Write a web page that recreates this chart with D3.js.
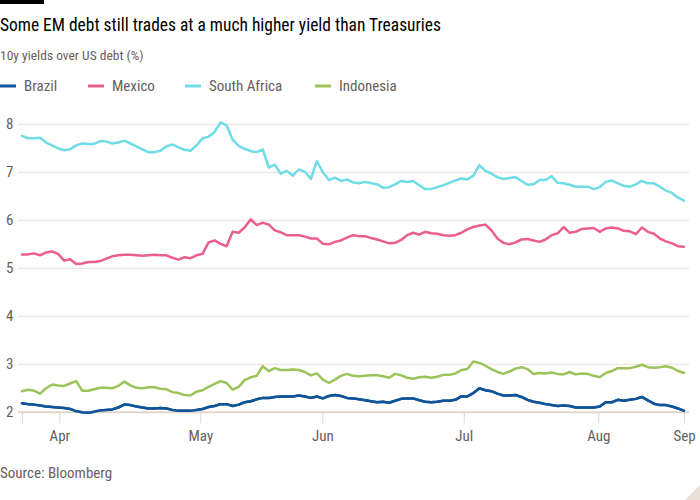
<!DOCTYPE html>
<html><head><meta charset="utf-8">
<script src="https://cdn.jsdelivr.net/npm/d3@7"></script>
<style>
html,body{margin:0;padding:0;background:#fff;}
svg text{font-family:"Liberation Sans Narrow","Roboto Condensed","Noto Sans",sans-serif;}
</style></head>
<body>
<svg id="c" width="700" height="500"></svg>
<script>
const series = ["Brazil","Mexico","South Africa","Indonesia"];
const colors = ["#0f5499","#eb5e8d","#70dce6","#9bc35a"];
const southAfrica = [7.76,7.71,7.71,7.72,7.62,7.56,7.50,7.46,7.48,7.56,7.60,7.59,7.59,7.65,7.64,7.60,7.62,7.66,7.60,7.54,7.48,7.42,7.42,7.45,7.54,7.58,7.52,7.47,7.45,7.56,7.71,7.74,7.84,8.04,7.98,7.68,7.55,7.49,7.44,7.42,7.48,7.10,7.16,6.97,7.03,6.93,7.06,7.01,6.86,7.23,7.00,6.84,6.89,6.82,6.85,6.79,6.77,6.80,6.77,6.75,6.68,6.69,6.75,6.82,6.80,6.82,6.73,6.65,6.65,6.69,6.73,6.78,6.83,6.87,6.85,6.93,7.15,7.03,6.97,6.90,6.86,6.88,6.90,6.82,6.74,6.75,6.84,6.84,6.92,6.78,6.77,6.74,6.70,6.70,6.70,6.65,6.69,6.80,6.83,6.77,6.72,6.70,6.75,6.82,6.77,6.77,6.70,6.62,6.57,6.47,6.41];
const mexico = [5.29,5.29,5.31,5.27,5.33,5.35,5.30,5.16,5.19,5.09,5.10,5.13,5.13,5.15,5.20,5.25,5.27,5.28,5.28,5.27,5.26,5.27,5.28,5.27,5.27,5.22,5.18,5.23,5.21,5.27,5.30,5.54,5.58,5.51,5.46,5.76,5.74,5.85,6.02,5.90,5.95,5.91,5.79,5.75,5.69,5.69,5.69,5.66,5.62,5.62,5.51,5.50,5.55,5.58,5.64,5.69,5.67,5.67,5.63,5.60,5.56,5.52,5.53,5.59,5.69,5.74,5.70,5.76,5.73,5.72,5.69,5.68,5.69,5.74,5.81,5.86,5.89,5.91,5.79,5.62,5.53,5.50,5.54,5.60,5.61,5.58,5.55,5.60,5.69,5.73,5.86,5.74,5.76,5.82,5.83,5.84,5.76,5.83,5.85,5.83,5.78,5.77,5.71,5.85,5.76,5.72,5.62,5.56,5.52,5.46,5.45];
const indonesia = [2.44,2.47,2.45,2.39,2.50,2.58,2.56,2.55,2.60,2.65,2.45,2.45,2.48,2.51,2.51,2.50,2.55,2.64,2.56,2.51,2.50,2.52,2.52,2.49,2.48,2.42,2.40,2.36,2.35,2.43,2.46,2.53,2.59,2.65,2.61,2.47,2.53,2.67,2.73,2.76,2.96,2.86,2.92,2.88,2.88,2.89,2.88,2.84,2.77,2.81,2.68,2.61,2.68,2.76,2.80,2.76,2.75,2.76,2.77,2.77,2.75,2.72,2.80,2.77,2.72,2.70,2.73,2.74,2.72,2.74,2.78,2.78,2.81,2.88,2.90,3.06,3.03,2.97,2.90,2.84,2.80,2.85,2.91,2.94,2.90,2.80,2.82,2.81,2.83,2.80,2.79,2.84,2.79,2.81,2.80,2.76,2.73,2.82,2.86,2.92,2.92,2.92,2.95,2.99,2.94,2.93,2.94,2.96,2.93,2.86,2.82];
const brazil = [2.19,2.17,2.16,2.14,2.12,2.11,2.10,2.09,2.07,2.02,2.00,1.99,2.01,2.04,2.05,2.06,2.10,2.16,2.15,2.12,2.10,2.08,2.08,2.09,2.08,2.05,2.03,2.03,2.03,2.05,2.07,2.11,2.13,2.17,2.17,2.13,2.16,2.21,2.23,2.27,2.30,2.30,2.32,2.33,2.33,2.33,2.35,2.33,2.30,2.33,2.29,2.34,2.36,2.34,2.30,2.29,2.27,2.25,2.23,2.21,2.22,2.20,2.24,2.28,2.29,2.29,2.25,2.22,2.21,2.22,2.24,2.24,2.26,2.33,2.33,2.40,2.50,2.46,2.44,2.39,2.35,2.35,2.36,2.32,2.26,2.22,2.20,2.17,2.15,2.13,2.14,2.13,2.10,2.10,2.10,2.10,2.12,2.21,2.21,2.26,2.24,2.26,2.28,2.32,2.25,2.18,2.15,2.15,2.12,2.08,2.03];
const xTickPos = [0, 6.2, 29.63, 49.9, 73.4, 95.76, 110];
const xTickLabels = ["", "Apr", "May", "Jun", "Jul", "Aug", "Sep"];
const yTicks = [2,3,4,5,6,7,8];
const title = "Some EM debt still trades at a much higher yield than Treasuries";
const subtitle = "10y yields over US debt (%)";
const source = "Source: Bloomberg";

const data = [brazil, mexico, southAfrica, indonesia];
const svg = d3.select("#c");
const x = d3.scaleLinear().domain([0, brazil.length-1]).range([22, 684]);
const y = d3.scaleLinear().domain([2, 8]).range([412.3, 124.3]);

svg.append("rect").attr("x",0).attr("y",0).attr("width",44).attr("height",4).attr("fill","#000");
svg.append("text").attr("x",0).attr("y",31).attr("font-size",18.5).attr("fill","#000")
  .attr("textLength",441).attr("lengthAdjust","spacingAndGlyphs").text(title);
svg.append("text").attr("x",0).attr("y",60).attr("font-size",13.5).attr("fill","#66605c").text(subtitle);

// legend
const legX = [0, 88, 185, 315];
series.forEach((s,i)=>{
  const g = svg.append("g").attr("transform",`translate(${legX[i]},86)`);
  g.append("line").attr("x1",0).attr("x2",16).attr("y1",0).attr("y2",0).attr("stroke",colors[i]).attr("stroke-width",3);
  g.append("text").attr("x",24).attr("y",5).attr("font-size",15).attr("fill","#66605c").text(s);
});

// gridlines
const grid = svg.append("g");
grid.selectAll("line").data(yTicks.filter(d=>d!==2)).join("line")
  .attr("x1",18).attr("x2",689).attr("y1",d=>y(d)).attr("y2",d=>y(d))
  .attr("stroke","#e9e0d8").attr("stroke-width",1);
grid.selectAll("text").data(yTicks).join("text")
  .attr("x",6).attr("y",d=>y(d)+5).attr("font-size",15).attr("fill","#66605c").text(d=>d);

// x axis
const xAxis = d3.axisBottom(x).tickValues(xTickPos).tickFormat((d,i)=>xTickLabels[i]).tickSize(11).tickPadding(7);
const xg = svg.append("g").attr("transform",`translate(0,${y(2)})`).call(xAxis);
xg.select(".domain").remove();
xg.selectAll(".tick line").attr("stroke","#e0d6cc");
xg.selectAll(".tick text").attr("font-size",15).attr("fill","#66605c").attr("font-family",null);

// lines
const line = d3.line().x((d,i)=>x(i)).y(d=>y(d)).curve(d3.curveLinear);
data.forEach((arr,i)=>{
  svg.append("path").datum(arr).attr("d",line).attr("fill","none").attr("stroke",colors[i])
    .attr("stroke-width",2.5).attr("stroke-linejoin","round").attr("stroke-linecap","round");
});
// baseline
svg.append("line").attr("x1",18).attr("x2",689).attr("y1",y(2)).attr("y2",y(2)).attr("stroke","#e0d6cc").attr("stroke-width",2);
// redraw brazil over baseline
svg.append("path").datum(brazil).attr("d",line).attr("fill","none").attr("stroke",colors[0])
    .attr("stroke-width",2.5).attr("stroke-linejoin","round").attr("stroke-linecap","round");

svg.append("text").attr("x",0).attr("y",478).attr("font-size",15).attr("fill","#66605c").text(source);
svg.append("path").attr("d","M700,485 L700,500 L685,500 Z").attr("fill","#e9e0d8");
</script>
</body></html>
